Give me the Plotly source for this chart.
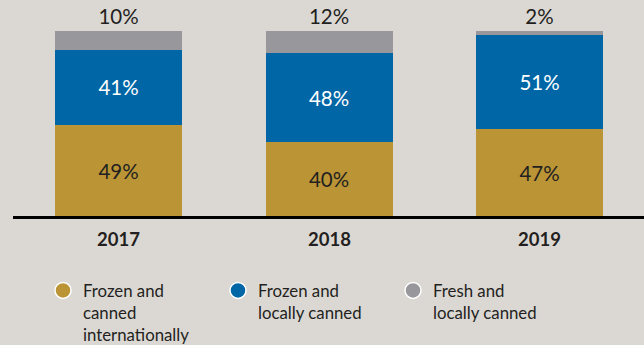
import plotly.graph_objects as go

# Share of supply by source, per year (percent of total)
years = ["2017", "2018", "2019"]
frozen_intl = [49, 40, 47]
frozen_local = [41, 48, 51]
fresh_local = [10, 12, 2]

series_names = [
    "Frozen and<br>canned<br>internationally",
    "Frozen and<br>locally canned",
    "Fresh and<br>locally canned",
]

GOLD = "#bb9535"
BLUE = "#0066a6"
GREY = "#98989c"
BG = "#dbd8d4"
INK = "#231f20"
FONT = "Lato"

W, H = 644, 345
BASE_PX, TOP_PX = 216, 31          # pixel rows of 0 % and 100 %
PX_PER_UNIT = (BASE_PX - TOP_PX) / 100
STEP_PX, FIRST_PX = 210.5, 118.5   # spacing and centre of first column

fig = go.Figure()

def pct(v):
    return [f"{x}%" for x in v]

fig.add_trace(go.Bar(
    x=years, y=frozen_intl, marker=dict(color=GOLD, line=dict(width=0)),
    text=pct(frozen_intl), textposition="inside", insidetextanchor="middle",
    textfont=dict(color=INK, size=20.5, family=FONT), showlegend=False,
    hoverinfo="skip",
))
fig.add_trace(go.Bar(
    x=years, y=frozen_local, marker=dict(color=BLUE, line=dict(width=0)),
    text=pct(frozen_local), textposition="inside", insidetextanchor="middle",
    textfont=dict(color="white", size=20.5, family=FONT), showlegend=False,
    hoverinfo="skip",
))
fig.add_trace(go.Bar(
    x=years, y=fresh_local, marker=dict(color=GREY, line=dict(width=0)),
    text=pct(fresh_local), textposition="outside", cliponaxis=False,
    outsidetextfont=dict(color=INK, size=20.5, family=FONT), showlegend=False,
    hoverinfo="skip",
))

# Legend entries drawn as round markers
for name, col in zip(series_names, [GOLD, BLUE, GREY]):
    fig.add_trace(go.Scatter(
        x=[None], y=[None], mode="markers", name=name,
        marker=dict(symbol="circle", size=16, color=col,
                    line=dict(color="white", width=1.5)),
    ))

# Year labels under each column (category axis: positions are indices)
for i, yr in enumerate(years):
    fig.add_annotation(
        x=i, xref="x", y=1 - 239 / H, yref="paper",
        text=f"<b>{yr}</b>", showarrow=False,
        font=dict(size=18.5, color=INK, family=FONT),
        xanchor="center", yanchor="middle",
    )

# Baseline
fig.add_shape(
    type="line", xref="paper", yref="paper",
    x0=13 / W, x1=1, y0=1 - 217.5 / H, y1=1 - 217.5 / H,
    line=dict(color="black", width=3), layer="above",
)

x0 = -FIRST_PX / STEP_PX
x1 = x0 + W / STEP_PX
y0 = -(H - BASE_PX) / PX_PER_UNIT
y1 = BASE_PX / PX_PER_UNIT

fig.update_layout(
    width=W, height=H,
    margin=dict(l=0, r=0, t=0, b=0, autoexpand=False),
    paper_bgcolor=BG, plot_bgcolor=BG,
    barmode="stack", bargap=1 - 127 / STEP_PX,
    font=dict(family=FONT, color=INK),
    xaxis=dict(type="category", range=[x0, x1], showticklabels=False,
               showgrid=False, zeroline=False, showline=False,
               fixedrange=True),
    yaxis=dict(range=[y0, y1], showticklabels=False, showgrid=False,
               zeroline=False, showline=False, fixedrange=True),
    legend=dict(
        orientation="h", x=43 / W, y=1 - 273 / H,
        xanchor="left", yanchor="top", traceorder="normal",
        entrywidth=130, entrywidthmode="pixels",
        valign="top", bgcolor="rgba(0,0,0,0)",
        font=dict(size=16.8, color=INK, family=FONT),
        itemclick=False, itemdoubleclick=False,
    ),
    showlegend=True,
)

fig.write_html("out.html")
